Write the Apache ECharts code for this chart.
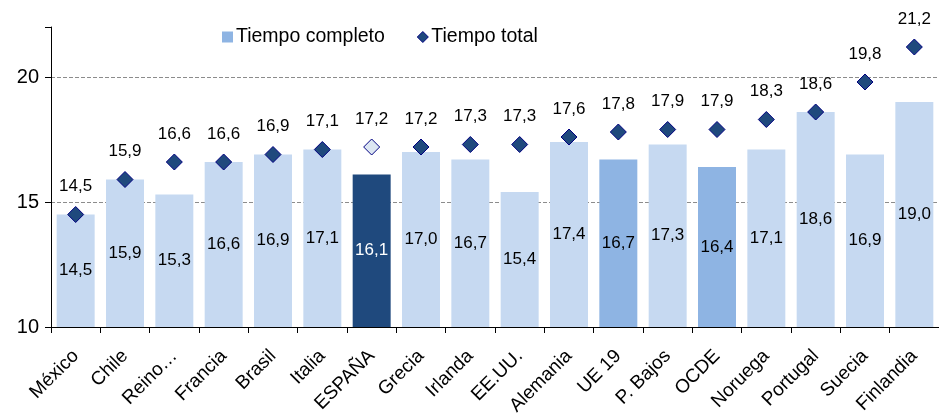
<!DOCTYPE html>
<html>
<head>
<meta charset="utf-8">
<script src="https://cdn.jsdelivr.net/npm/echarts@6/dist/echarts.min.js"></script>
<style>
  html, body { margin: 0; padding: 0; background: #fff; }
  #chart { width: 939px; height: 418px; }
</style>
</head>
<body>
<div id="chart"></div>
<script>
  // datos
  const paises = ['México', 'Chile', 'Reino…', 'Francia', 'Brasil', 'Italia', 'ESPAÑA', 'Grecia', 'Irlanda',
    'EE.UU.', 'Alemania', 'UE 19', 'P. Bajos', 'OCDE', 'Noruega', 'Portugal', 'Suecia', 'Finlandia'];
  const tiempoCompleto = [14.5, 15.9, 15.3, 16.6, 16.9, 17.1, 16.1, 17.0, 16.7, 15.4, 17.4, 16.7, 17.3, 16.4, 17.1, 18.6, 16.9, 19.0];
  const tiempoTotal = [14.5, 15.9, 16.6, 16.6, 16.9, 17.1, 17.2, 17.2, 17.3, 17.3, 17.6, 17.8, 17.9, 17.9, 18.3, 18.6, 19.8, 21.2];
  const yTicks = [10, 15, 20];

  const fmt = (v) => Number(v).toFixed(1).replace('.', ',');

  const barColor = (name) => {
    if (name === 'ESPAÑA') return '#1F497D';
    if (name === 'UE 19' || name === 'OCDE') return '#8EB4E3';
    return '#C6D9F1';
  };

  const chart = echarts.init(document.getElementById('chart'));
  chart.setOption({
    animation: false,
    textStyle: { fontFamily: 'Liberation Sans, Arial, sans-serif' },
    grid: { left: 51, right: 0, top: 27, bottom: 91 },
    legend: {
      top: 22,
      left: 217,
      itemGap: 32,
      itemWidth: 11,
      itemHeight: 11,
      textStyle: { fontSize: 19.5, color: '#000', padding: [0, 0, 0, -2] },
      data: [
        { name: 'Tiempo completo', icon: 'rect', itemStyle: { color: '#8EB4E3' } },
        { name: 'Tiempo total', icon: 'diamond', itemStyle: { color: '#1F497D', borderColor: '#000080', borderWidth: 1, opacity: 1 } },
      ],
    },
    xAxis: {
      type: 'category',
      data: paises,
      axisLine: { lineStyle: { color: '#000', width: 1 } },
      axisTick: { show: true, alignWithLabel: false, length: 6, lineStyle: { color: '#000' } },
      axisLabel: { rotate: 45, fontSize: 19, color: '#000', margin: 26, interval: 0 },
    },
    yAxis: {
      type: 'value',
      min: 10,
      max: 22,
      interval: 5,
      axisLine: { show: true, lineStyle: { color: '#000' } },
      axisTick: { show: true, length: 6, lineStyle: { color: '#000' } },
      axisLabel: {
        fontSize: 20, color: '#000', margin: 12,
        formatter: (v) => (yTicks.includes(v) ? String(v) : ''),
      },
      splitLine: {
        show: true,
        lineStyle: { color: ['rgba(0,0,0,0)', '#8c8c8c', '#8c8c8c', 'rgba(0,0,0,0)'], type: [4, 2], width: 1 },
      },
    },
    series: [
      {
        name: 'Tiempo completo',
        type: 'bar',
        barCategoryGap: '23%',
        data: tiempoCompleto.map((v, i) => ({
          value: v,
          itemStyle: { color: barColor(paises[i]) },
          label: { color: paises[i] === 'ESPAÑA' ? '#fff' : '#000' },
        })),
        label: {
          show: true,
          position: 'inside',
          fontSize: 17,
          formatter: (p) => fmt(p.value),
        },
      },
      {
        name: 'Tiempo total',
        type: 'scatter',
        symbol: 'diamond',
        symbolSize: 16,
        z: 3,
        data: tiempoTotal.map((v, i) => ({
          value: v,
          itemStyle: paises[i] === 'ESPAÑA'
            ? { color: '#DCE6F2', borderColor: '#000080', borderWidth: 1, opacity: 1 }
            : { color: '#1F497D', borderColor: '#000080', borderWidth: 1, opacity: 1 },
        })),
        label: {
          show: true,
          position: 'top',
          distance: 11,
          fontSize: 17,
          color: '#000',
          formatter: (p) => fmt(p.value),
        },
      },
    ],
  });
</script>
</body>
</html>
